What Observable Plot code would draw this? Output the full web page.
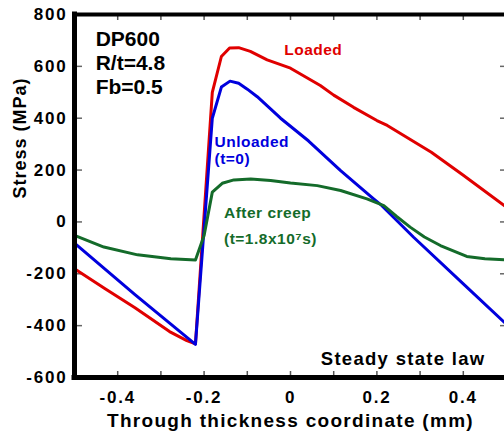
<!DOCTYPE html>
<html><head><meta charset="utf-8">
<script src="https://cdn.jsdelivr.net/npm/d3@7"></script>
<script src="https://cdn.jsdelivr.net/npm/@observablehq/plot@0.6"></script>
<style>
body{margin:0;background:#fff;}
svg{font-family:"Liberation Sans",Arial,sans-serif;font-weight:bold;}
</style></head><body><div id="chart"></div>
<script>
const loadedX = [-0.5, -0.43, -0.36, -0.28, -0.24, -0.22, -0.181, -0.16, -0.141, -0.12, -0.093, -0.054, 0.0, 0.042, 0.069, 0.1, 0.146, 0.2, 0.224, 0.326, 0.4, 0.5];
const loadedY = [-181, -257, -331, -423, -458, -470, 500, 638, 671, 672, 658, 625, 593, 552, 526, 489, 442, 391, 372, 269, 180, 57];
const unloadedX = [-0.5, -0.36, -0.22, -0.181, -0.16, -0.14, -0.12, -0.1, -0.077, -0.05, -0.023, 0.042, 0.116, 0.189, 0.208, 0.285, 0.4, 0.5];
const unloadedY = [-82, -280, -472, 400, 520, 543, 535, 512, 483, 442, 400, 312, 198, 94, 68, -59, -239, -395];
const creepX = [-0.5, -0.432, -0.354, -0.277, -0.22, -0.2, -0.181, -0.158, -0.131, -0.092, -0.046, 0, 0.062, 0.116, 0.177, 0.216, 0.245, 0.277, 0.31, 0.347, 0.408, 0.45, 0.5];
const creepY = [-52, -97, -127, -142, -147, -52, 115, 149, 162, 166, 160, 150, 140, 121, 89, 63, 22, -20, -58, -91, -133, -142, -146];

const xDomain = [-0.5, 0.5];
const yDomain = [-600, 800];
const xMinorTicks = [-0.4, -0.3, -0.2, -0.1, 0, 0.1, 0.2, 0.3, 0.4];
const xLabelValues = [-0.4, -0.2, 0, 0.2, 0.4];
const xLabelTexts = ["-0.4", "-0.2", "0", "0.2", "0.4"];
const yMinorTicks = [-400, -200, 0, 200, 400, 600];
const yLabelValues = [-600, -400, -200, 0, 200, 400, 600, 800];
const yLabelTexts = ["-600", "-400", "-200", "0", "200", "400", "600", "800"];

const RED = "#e00000", BLUE = "#0000dd", GREEN = "#146b2a";
const toPts = (xs, ys) => xs.map((x, i) => ({x, y: ys[i]}));

const W = 504, H = 434, mL = 74, mR = -2, mT = 14, mB = 57;
const plotW = W - mL - mR, plotH = H - mT - mB;

const chart = Plot.plot({
  width: W, height: H,
  marginLeft: mL, marginRight: mR, marginTop: mT, marginBottom: mB,
  style: {fontFamily: "'Liberation Sans', Arial, sans-serif", fontWeight: "bold", fontSize: "17px", background: "white"},
  x: {domain: xDomain, ticks: xLabelValues, tickSize: 0, tickPadding: 13,
      tickFormat: d => xLabelTexts[xLabelValues.indexOf(d)], label: null},
  y: {domain: yDomain, ticks: yLabelValues, tickSize: 0, tickPadding: 7,
      tickFormat: d => yLabelTexts[yLabelValues.indexOf(d)], label: null},
  marks: [
    Plot.tickX(xMinorTicks, {x: d => d, insetTop: plotH - 6, stroke: "#555", strokeWidth: 1.5}),
    Plot.tickX(xMinorTicks, {x: d => d, insetBottom: plotH - 6, stroke: "#555", strokeWidth: 1.5}),
    Plot.tickY(yMinorTicks, {y: d => d, insetRight: plotW - 8, stroke: "#666", strokeWidth: 1.5}),
    Plot.tickY(yMinorTicks, {y: d => d, insetLeft: plotW - 6, stroke: "#666", strokeWidth: 1.5}),
    Plot.line(toPts(loadedX, loadedY), {x: "x", y: "y", stroke: RED, strokeWidth: 3, strokeLinejoin: "round"}),
    Plot.line(toPts(unloadedX, unloadedY), {x: "x", y: "y", stroke: BLUE, strokeWidth: 3, strokeLinejoin: "round"}),
    Plot.line(toPts(creepX, creepY), {x: "x", y: "y", stroke: GREEN, strokeWidth: 3, strokeLinejoin: "round"}),
    Plot.ruleX([xDomain[0]], {stroke: "black", strokeWidth: 5, strokeLinecap: "square"}),
    Plot.ruleY([yDomain[0]], {stroke: "black", strokeWidth: 5, strokeLinecap: "square"}),
    Plot.ruleY([yDomain[1]], {stroke: "black", strokeWidth: 4, strokeLinecap: "square"}),
    Plot.text(["DP600\nR/t=4.8\nFb=0.5"], {text: d => d, x: -0.451, y: 742, textAnchor: "start", lineAnchor: "top", fontSize: 21, lineHeight: 1.13, fill: "black"}),
    Plot.text(["Loaded"], {text: d => d, x: -0.0146, y: 688, textAnchor: "start", lineAnchor: "top", fontSize: 15.5, fill: RED}),
    Plot.text(["Unloaded\n(t=0)"], {text: d => d, x: -0.176, y: 333, textAnchor: "start", lineAnchor: "top", fontSize: 15.5, lineHeight: 1.08, fill: BLUE}),
    Plot.text(["After creep"], {text: d => d, x: -0.154, y: 57, textAnchor: "start", lineAnchor: "top", fontSize: 15.5, fill: GREEN}),
    Plot.text(["(t=1.8x10\u2077s)"], {text: d => d, x: -0.154, y: -41, textAnchor: "start", lineAnchor: "top", fontSize: 15.5, fill: GREEN}),
    Plot.text(["Steady state law"], {text: d => d, x: 0.070, y: -502, textAnchor: "start", lineAnchor: "top", fontSize: 18.5, fill: "black"}),
    Plot.text(["Through thickness coordinate (mm)"], {text: d => d, frameAnchor: "bottom", lineAnchor: "top", dy: 35.5, fontSize: 19, fill: "black"}),
    Plot.text(["Stress (MPa)"], {text: d => d, frameAnchor: "left", rotate: -90, lineAnchor: "middle", dx: -54, dy: 2.5, fontSize: 18, fill: "black"})
  ]
});
// letter-spacing styling per text
const spacing = new Map([
  ["Loaded", 0.5], ["Unloaded(t=0)", 0.5], ["After creep", 0.5], ["(t=1.8x10\u2077s)", 0.5],
  ["Steady state law", 1.3], ["Through thickness coordinate (mm)", 1.3], ["Stress (MPa)", 1]
]);
const tickSet = new Set([...xLabelTexts, ...yLabelTexts]);
d3.select(chart).selectAll("text").each(function() {
  const t = this.textContent;
  if (spacing.has(t)) this.style.letterSpacing = spacing.get(t) + "px";
  else if (tickSet.has(t)) this.style.letterSpacing = "1.8px";
});
document.getElementById("chart").appendChild(chart);
</script></body></html>
